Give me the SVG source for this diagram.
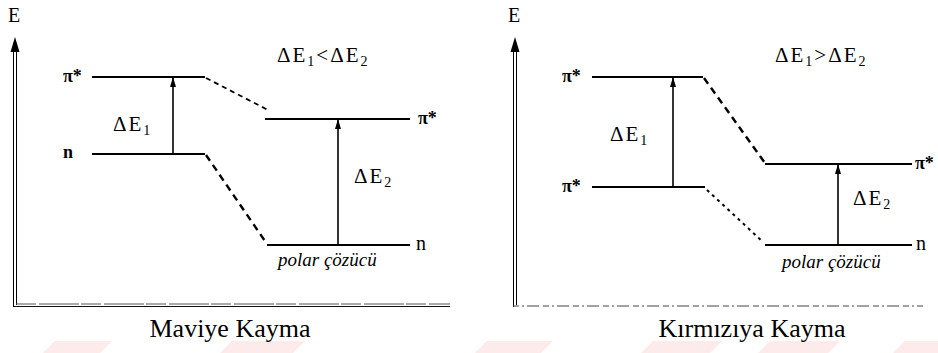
<svg xmlns="http://www.w3.org/2000/svg" width="938" height="353" viewBox="0 0 938 353">
<defs>
<marker id="ah" markerUnits="userSpaceOnUse" markerWidth="10" markerHeight="6" refX="9" refY="3" orient="auto" viewBox="0 0 10 6">
<path d="M0,0 L10,3 L0,6 Z" fill="#000"/>
</marker>
<style>
.t{fill:#000}
.lbl{font-size:18px;font-weight:bold}
.d{font-size:20px}
.de{font-size:21px;letter-spacing:2px}
.sub{font-size:14px}
.it{font-size:19px;font-style:italic}
.cap{font-size:26px}
.lvl{stroke:#000;stroke-width:2;fill:none}
.arr{stroke:#000;stroke-width:1.6;fill:none}
.dash{stroke:#000;stroke-width:2.4;fill:none;stroke-dasharray:7 5}
.ax{stroke:#000;stroke-width:1;fill:none}
.wm{fill:#fdeaea}
</style>
</defs>
<rect width="938" height="353" fill="#fff"/>
<g id="watermark">
<polygon class="wm" points="55,341 112,341 100,353 43,353"/>
<polygon class="wm" points="232,341 305,341 293,353 220,353"/>
<polygon class="wm" points="487,341 553,341 541,353 475,353"/>
<polygon class="wm" points="653,341 722,341 710,353 641,353"/>
<polygon class="wm" points="770,341 840,341 828,353 758,353"/>
<polygon class="wm" points="905,341 938,341 938,353 893,353"/>
</g>
<g font-family="Liberation Serif, Times New Roman, Times, serif">
<g id="axes-left">
<line class="ax" x1="13.5" y1="48" x2="13.5" y2="307"/>
<line class="ax" x1="16.5" y1="48" x2="16.5" y2="305"/>
<path d="M10.5,52 L15,37 L19.5,52 Z" fill="#000"/>
<line x1="13" y1="306.5" x2="450" y2="306.5" stroke="#111" stroke-width="1.2"/>
<line x1="16" y1="304" x2="450" y2="304" stroke="#555" stroke-width="1" stroke-dasharray="20 3 40 2"/>
<text class="t d" x="8" y="22">E</text>
</g>
<g id="axes-right">
<line class="ax" x1="513.5" y1="48" x2="513.5" y2="307"/>
<line class="ax" x1="516.5" y1="48" x2="516.5" y2="305"/>
<path d="M510.5,52 L515,37 L519.5,52 Z" fill="#000"/>
<line x1="513" y1="306" x2="923" y2="306" stroke="#444" stroke-width="1" stroke-dasharray="6 3 2 3 12 4"/>
<text class="t d" x="508" y="22">E</text>
</g>
<g id="connectors">
<line class="arr" x1="173" y1="154" x2="173" y2="78" marker-end="url(#ah)"/>
<line class="arr" x1="338" y1="245" x2="338" y2="120" marker-end="url(#ah)"/>
<line class="arr" x1="673" y1="187" x2="673" y2="78" marker-end="url(#ah)"/>
<line class="arr" x1="838" y1="245" x2="838" y2="165" marker-end="url(#ah)"/>
<line class="dash" x1="206" y1="78" x2="268" y2="110" style="stroke-width:1.8;stroke-dasharray:5 4"/>
<line class="dash" x1="206" y1="155" x2="267" y2="244"/>
<line class="dash" x1="704" y1="78" x2="765" y2="163"/>
<line class="dash" x1="707" y1="190" x2="763" y2="242" style="stroke-width:2;stroke-dasharray:3 4"/>
</g>
<g id="left-pi-upper">
<line class="lvl" x1="92" y1="77" x2="205" y2="77"/>
<text class="t lbl" x="63" y="82">π*</text>
</g>
<g id="left-n-upper">
<line class="lvl" x1="92" y1="154" x2="205" y2="154"/>
<text class="t lbl" x="63" y="158">n</text>
</g>
<g id="left-pi-lower">
<line class="lvl" x1="265" y1="119" x2="410" y2="119"/>
<text class="t lbl" x="418" y="124">π*</text>
</g>
<g id="left-n-lower">
<line class="lvl" x1="267" y1="245" x2="410" y2="245"/>
<text class="t d" x="416" y="250">n</text>
<text class="t it" x="278" y="266">polar çözücü</text>
</g>
<g id="left-labels">
<text class="t de" x="113" y="131">ΔE<tspan class="sub" dy="4">1</tspan></text>
<text class="t de" x="354" y="183">ΔE<tspan class="sub" dy="4">2</tspan></text>
<text class="t de" x="277" y="62">ΔE<tspan class="sub" dy="4">1</tspan><tspan dy="-4">&lt;ΔE</tspan><tspan class="sub" dy="4">2</tspan></text>
<text class="t cap" x="230" y="337" text-anchor="middle">Maviye Kayma</text>
</g>
<g id="right-pi-upper">
<line class="lvl" x1="592" y1="77" x2="703" y2="77"/>
<text class="t lbl" x="562" y="82">π*</text>
</g>
<g id="right-pi-mid">
<line class="lvl" x1="592" y1="187" x2="705" y2="187"/>
<text class="t lbl" x="562" y="192">π*</text>
</g>
<g id="right-pi-lower">
<line class="lvl" x1="765" y1="164" x2="912" y2="164"/>
<text class="t lbl" x="915" y="169">π*</text>
</g>
<g id="right-n-lower">
<line class="lvl" x1="765" y1="245" x2="912" y2="245"/>
<text class="t d" x="916" y="250">n</text>
<text class="t it" x="782" y="268">polar çözücü</text>
</g>
<g id="right-labels">
<text class="t de" x="610" y="141">ΔE<tspan class="sub" dy="4">1</tspan></text>
<text class="t de" x="853" y="205">ΔE<tspan class="sub" dy="4">2</tspan></text>
<text class="t de" x="775" y="62">ΔE<tspan class="sub" dy="4">1</tspan><tspan dy="-4">&gt;ΔE</tspan><tspan class="sub" dy="4">2</tspan></text>
<text class="t cap" x="752" y="337" text-anchor="middle">Kırmızıya Kayma</text>
</g>
</g>
</svg>
